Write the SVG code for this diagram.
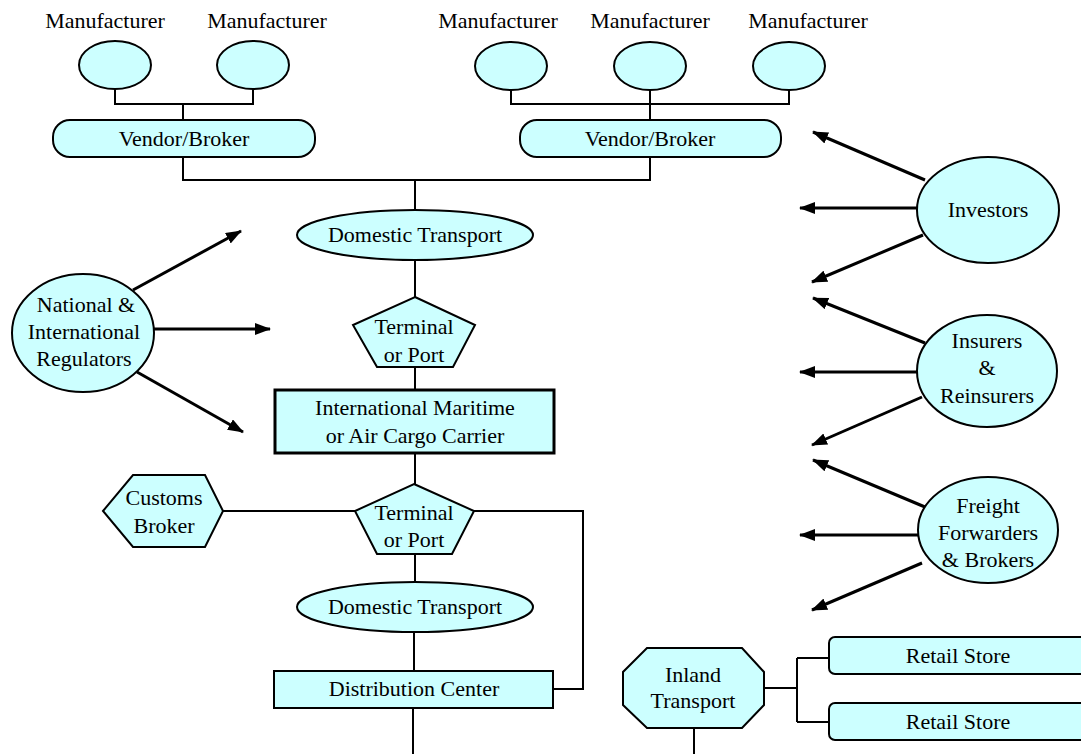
<svg xmlns="http://www.w3.org/2000/svg" width="1081" height="754" viewBox="0 0 1081 754">
<defs>
<style>
.n{fill:#CCFFFF;stroke:#000;stroke-width:2}
.thick{stroke-width:3}
.c{fill:none;stroke:#000;stroke-width:2}
.a{fill:none;stroke:#000;stroke-width:3}
.t text{font-size:22px;fill:#000;text-anchor:middle}
</style>
<marker id="ah" markerUnits="userSpaceOnUse" markerWidth="16" markerHeight="12" refX="15" refY="6" orient="auto">
<path d="M0,0 L16,6 L0,12 z" fill="#000"/>
</marker>
</defs>
<rect width="1081" height="754" fill="#fff"/>
<g id="connectors">
<path class="c" d="M115,89 V104 H253 V89 M183,104 V120"/>
<path class="c" d="M511,90 V104 H789 V90"/>
<path class="c thick" d="M650,90 V120"/>
<path class="c" d="M183,157 V180 H650 V157 M415,180 V210"/>
<path class="c" d="M415,260 V297 M415,367 V390 M415,453 V484"/>
<path class="c" d="M223,511 H355 M474,511 H583 V689 H553"/>
<path class="c" d="M415,554 V582 M414,632 V671 M413,708 V754"/>
<path class="c" d="M764,688 H797 M797,658 V722 M797,658 H829 M797,722 H829 M694,728 V754"/>
<line class="a" x1="133" y1="290" x2="241" y2="231" marker-end="url(#ah)"/>
<line class="a" x1="153" y1="329" x2="270" y2="329" marker-end="url(#ah)"/>
<line class="a" x1="137" y1="372" x2="243" y2="432" marker-end="url(#ah)"/>
<line class="a" x1="925" y1="180" x2="813" y2="132" marker-end="url(#ah)"/>
<line class="a" x1="917" y1="208" x2="800" y2="208" marker-end="url(#ah)"/>
<line class="a" x1="923" y1="235" x2="812" y2="282" marker-end="url(#ah)"/>
<line class="a" x1="925" y1="343" x2="813" y2="298" marker-end="url(#ah)"/>
<line class="a" x1="918" y1="372" x2="800" y2="372" marker-end="url(#ah)"/>
<line class="a" x1="922" y1="397" x2="812" y2="445" marker-end="url(#ah)"/>
<line class="a" x1="925" y1="507" x2="813" y2="460" marker-end="url(#ah)"/>
<line class="a" x1="918" y1="535" x2="800" y2="535" marker-end="url(#ah)"/>
<line class="a" x1="922" y1="563" x2="812" y2="610" marker-end="url(#ah)"/>
</g>
<g class="t" font-family="Liberation Serif, Times New Roman, serif">
<g id="mfr1"><text x="105" y="28">Manufacturer</text><ellipse class="n" cx="115" cy="65" rx="36" ry="24"/></g>
<g id="mfr2"><text x="267" y="28">Manufacturer</text><ellipse class="n" cx="253" cy="65" rx="36" ry="24"/></g>
<g id="mfr3"><text x="498" y="28">Manufacturer</text><ellipse class="n" cx="511" cy="66" rx="36" ry="24"/></g>
<g id="mfr4"><text x="650" y="28">Manufacturer</text><ellipse class="n" cx="650" cy="66" rx="36" ry="24"/></g>
<g id="mfr5"><text x="808" y="28">Manufacturer</text><ellipse class="n" cx="789" cy="66" rx="36" ry="24"/></g>
<g id="vendor1"><rect class="n" x="53" y="120" width="262" height="37" rx="17"/><text x="184" y="146">Vendor/Broker</text></g>
<g id="vendor2"><rect class="n" x="520" y="120" width="261" height="37" rx="17"/><text x="650" y="146">Vendor/Broker</text></g>
<g id="domestic1"><ellipse class="n" cx="415" cy="235" rx="118" ry="25"/><text x="415" y="242">Domestic Transport</text></g>
<g id="terminal1"><polygon class="n" points="415,297 475,325 453,367 377,367 353,325"/><text x="414" y="334">Terminal</text><text x="414" y="362">or Port</text></g>
<g id="carrier"><rect class="n thick" x="275" y="390" width="279" height="63"/><text x="415" y="415">International Maritime</text><text x="415" y="443">or Air Cargo Carrier</text></g>
<g id="terminal2"><polygon class="n" points="414,484 474,511 452,554 377,554 355,511"/><text x="414" y="520">Terminal</text><text x="414" y="547">or Port</text></g>
<g id="customs"><polygon class="n" points="103,511 133,475 205,475 223,511 205,547 133,547"/><text x="164" y="505">Customs</text><text x="164" y="533">Broker</text></g>
<g id="domestic2"><ellipse class="n" cx="415" cy="607" rx="118" ry="25"/><text x="415" y="614">Domestic Transport</text></g>
<g id="distribution"><rect class="n" x="274" y="671" width="279" height="37"/><text x="414" y="696">Distribution Center</text></g>
<g id="regulators"><ellipse class="n" cx="83" cy="333" rx="71" ry="59"/><text x="86" y="312">National &amp;</text><text x="84" y="339">International</text><text x="84" y="366">Regulators</text></g>
<g id="investors"><ellipse class="n" cx="988" cy="210" rx="71" ry="53"/><text x="988" y="217">Investors</text></g>
<g id="insurers"><ellipse class="n" cx="987" cy="371" rx="70" ry="56"/><text x="987" y="348">Insurers</text><text x="987" y="375">&amp;</text><text x="987" y="403">Reinsurers</text></g>
<g id="freight"><ellipse class="n" cx="988" cy="530" rx="70" ry="53"/><text x="988" y="513">Freight</text><text x="988" y="540">Forwarders</text><text x="988" y="567">&amp; Brokers</text></g>
<g id="inland"><polygon class="n" points="647,648 742,648 764,672 764,705 742,728 647,728 623,705 623,672"/><text x="693" y="682">Inland</text><text x="693" y="708">Transport</text></g>
<g id="retail1"><rect class="n" x="829" y="637" width="270" height="37" rx="6"/><text x="958" y="663">Retail Store</text></g>
<g id="retail2"><rect class="n" x="829" y="703" width="270" height="37" rx="6"/><text x="958" y="729">Retail Store</text></g>
</g>
</svg>
